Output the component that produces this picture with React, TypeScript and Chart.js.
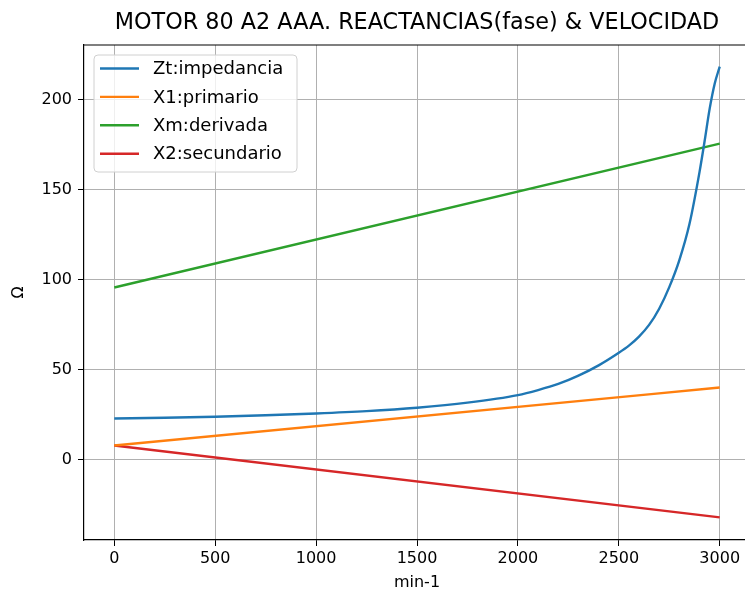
import React, { useEffect, useRef } from "react";
import { Chart, registerables } from "chart.js";

Chart.register(...registerables);

// ---- data ----
const chartTitle = "MOTOR 80 A2 AAA. REACTANCIAS(fase) & VELOCIDAD";
const xAxisLabel = "min-1";
const yAxisLabel = "Ω";
const xTicks = [0, 500, 1000, 1500, 2000, 2500, 3000];
const yTicks = [0, 50, 100, 150, 200];
const xRange = [-150, 3150];
const yRange = [-44.5, 230.5];

const seriesLabels = ["Zt:impedancia", "X1:primario", "Xm:derivada", "X2:secundario"];
const seriesColors = ["#1f77b4", "#ff7f0e", "#2ca02c", "#d62728"];

const ztSpeed = [0, 250, 500, 750, 1000, 1250, 1500, 1750, 2000, 2100, 2200, 2300, 2400, 2500, 2550, 2600, 2650, 2700, 2750, 2800, 2850, 2900, 2925, 2950, 2975, 3000];
const ztValues = [23.0, 23.4, 24.0, 24.8, 25.8, 27.1, 29.0, 31.8, 36.0, 38.8, 42.2, 46.8, 52.5, 59.5, 63.5, 68.5, 75.0, 84.0, 96.0, 111.0, 131.0, 160.0, 177.0, 195.0, 209.0, 218.5];

const lineSpeed = [0, 3000];
const x1Values = [8.0, 40.2];
const xmValues = [95.8, 175.7];
const x2Values = [8.0, -31.9];

const FONT = '"DejaVu Sans", "Liberation Sans", sans-serif';

function toPoints(xs: number[], ys: number[]) {
  return xs.map((x, i) => ({ x, y: ys[i] }));
}

const decorPlugin = {
  id: "decor",
  afterDraw(chart: any) {
    const { ctx, chartArea: a } = chart;
    ctx.save();
    ctx.strokeStyle = "#000";
    ctx.lineWidth = 1.2;
    ctx.beginPath();
    ctx.moveTo(a.left, a.top);
    ctx.lineTo(a.right, a.top);
    ctx.lineTo(a.right, a.bottom);
    ctx.stroke();

    ctx.fillStyle = "#000";
    ctx.font = `22.3px ${FONT}`;
    ctx.textAlign = "center";
    ctx.textBaseline = "middle";
    ctx.fillText(chartTitle, (a.left + a.right) / 2, 23);

    const bx = a.left + 10;
    const by = a.top + 10;
    const bw = 203;
    const bh = 117;
    const r = 4;
    ctx.beginPath();
    ctx.moveTo(bx + r, by);
    ctx.lineTo(bx + bw - r, by);
    ctx.arcTo(bx + bw, by, bx + bw, by + r, r);
    ctx.lineTo(bx + bw, by + bh - r);
    ctx.arcTo(bx + bw, by + bh, bx + bw - r, by + bh, r);
    ctx.lineTo(bx + r, by + bh);
    ctx.arcTo(bx, by + bh, bx, by + bh - r, r);
    ctx.lineTo(bx, by + r);
    ctx.arcTo(bx, by, bx + r, by, r);
    ctx.closePath();
    ctx.fillStyle = "rgba(255,255,255,0.8)";
    ctx.fill();
    ctx.strokeStyle = "#d0d0d0";
    ctx.lineWidth = 1;
    ctx.stroke();

    ctx.font = `18px ${FONT}`;
    ctx.textAlign = "left";
    ctx.textBaseline = "middle";
    chart.data.datasets.forEach((ds: any, i: number) => {
      const y = by + 13.5 + i * 28.4;
      ctx.strokeStyle = ds.borderColor;
      ctx.lineWidth = 2.4;
      ctx.beginPath();
      ctx.moveTo(bx + 6, y);
      ctx.lineTo(bx + 45, y);
      ctx.stroke();
      ctx.fillStyle = "#000";
      ctx.fillText(ds.label, bx + 59, y + 1);
    });
    ctx.restore();
  },
};

export default function App() {
  const ref = useRef<HTMLCanvasElement | null>(null);

  useEffect(() => {
    if (!ref.current) return;
    const datasets = [
      { label: seriesLabels[0], data: toPoints(ztSpeed, ztValues), borderColor: seriesColors[0] },
      { label: seriesLabels[1], data: toPoints(lineSpeed, x1Values), borderColor: seriesColors[1] },
      { label: seriesLabels[2], data: toPoints(lineSpeed, xmValues), borderColor: seriesColors[2] },
      { label: seriesLabels[3], data: toPoints(lineSpeed, x2Values), borderColor: seriesColors[3] },
    ].map((d) => ({
      ...d,
      backgroundColor: d.borderColor,
      borderWidth: 2.4,
      pointRadius: 0,
      fill: false,
      cubicInterpolationMode: "monotone" as const,
    }));

    const chart = new Chart(ref.current, {
      type: "line",
      data: { datasets },
      options: {
        animation: false,
        responsive: false,
        maintainAspectRatio: false,
        layout: { padding: { top: 45, right: 50, left: 0, bottom: 0 } },
        plugins: {
          legend: { display: false },
          title: { display: false },
          tooltip: { enabled: false },
        },
        scales: {
          x: {
            type: "linear",
            min: xRange[0],
            max: xRange[1],
            afterBuildTicks: (axis: any) => {
              axis.ticks = xTicks.map((v) => ({ value: v }));
            },
            afterFit: (scale: any) => {
              scale.height = 53;
              scale.paddingLeft = 0;
              scale.paddingRight = 0;
            },
            grid: { color: "#b0b0b0", lineWidth: 1, tickLength: 6, tickColor: "#000" },
            border: { display: true, color: "#000", width: 1.2 },
            ticks: {
              color: "#000",
              font: { family: FONT, size: 16 },
              padding: 3,
              maxRotation: 0,
              autoSkip: false,
              callback: (v: any) => String(v),
            },
            title: {
              display: true,
              text: xAxisLabel,
              color: "#000",
              font: { family: FONT, size: 16 },
              padding: { top: 0, bottom: 1 },
            },
          },
          y: {
            type: "linear",
            min: yRange[0],
            max: yRange[1],
            afterBuildTicks: (axis: any) => {
              axis.ticks = yTicks.map((v) => ({ value: v }));
            },
            afterFit: (scale: any) => {
              scale.width = 84;
              scale.paddingTop = 0;
              scale.paddingBottom = 0;
            },
            grid: { color: "#b0b0b0", lineWidth: 1, tickLength: 6, tickColor: "#000" },
            border: { display: true, color: "#000", width: 1.2 },
            ticks: {
              color: "#000",
              font: { family: FONT, size: 16 },
              padding: 6,
              autoSkip: false,
              callback: (v: any) => String(v),
            },
            title: {
              display: true,
              text: yAxisLabel,
              color: "#000",
              font: { family: FONT, size: 16 },
              padding: { top: 9, bottom: 0 },
            },
          },
        },
      } as any,
      plugins: [decorPlugin],
    });
    return () => chart.destroy();
  }, []);

  return (
    <div
      style={{
        position: "fixed",
        left: 0,
        top: 0,
        width: 745,
        height: 593,
        overflow: "hidden",
        background: "#fff",
      }}
    >
      <canvas ref={ref} width={800} height={593} style={{ display: "block" }} />
    </div>
  );
}
